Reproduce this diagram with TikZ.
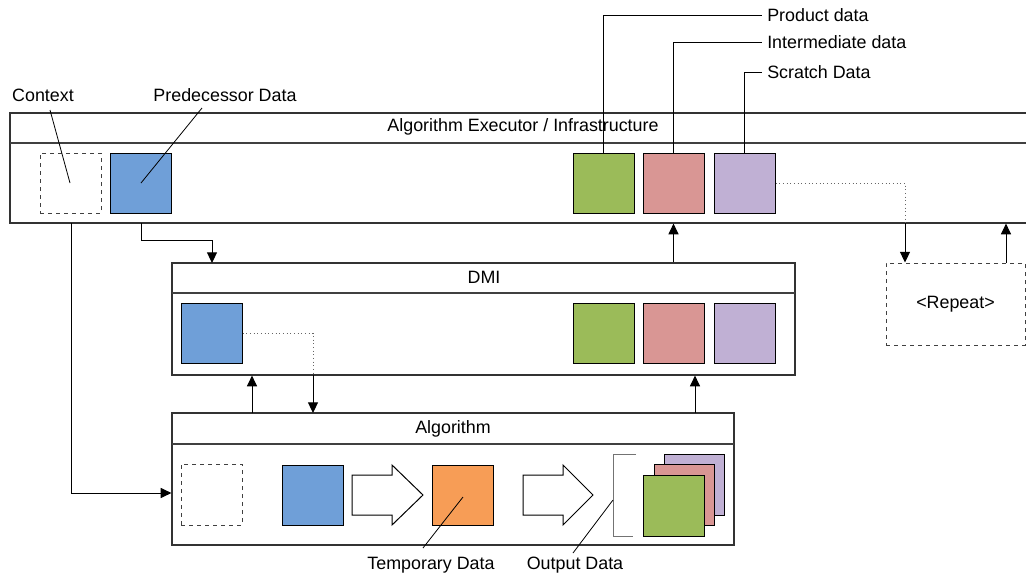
\documentclass[tikz,border=0pt]{standalone}
\usepackage{fontspec}
\setmainfont{Liberation Sans}
\usetikzlibrary{arrows.meta,fit}
\definecolor{cblue}{HTML}{6F9FD8}
\definecolor{cgreen}{HTML}{9BBB59}
\definecolor{cred}{HTML}{D99694}
\definecolor{cpurple}{HTML}{C0B0D4}
\definecolor{corange}{HTML}{F79D56}
\begin{document}
\begin{tikzpicture}[x=0.75pt,y=-0.75pt,
  frame/.style={draw=black!80, line width=0.9pt, inner sep=0pt},
  hline/.style={draw=black!75, line width=1pt},
  sq/.style={draw=black, line width=0.75pt, inner sep=0pt},
  dsq/.style={draw=black!75, dashed, line width=0.75pt, inner sep=0pt},
  lbl/.style={font=\fontsize{13.4}{15}\selectfont, inner sep=0pt},
  arr/.style={-{Triangle[length=8pt,width=7.5pt]}, line width=0.75pt},
  dotl/.style={dotted, draw=black!60, line width=0.75pt},
  lead/.style={draw=black, line width=0.6pt},
  blk/.style={draw=black, line width=0.75pt, fill=white},
  ]
\useasboundingbox (0,0) rectangle (1026,575);
\clip (0,0) rectangle (1026,575);

% ---------- Algorithm Executor ----------
\node[frame, fit={(10,113)(1040,223)}] (exec) {};
\draw[hline] (10,143) -- (1040,143);
\node[lbl] (exect) at (523,127) {Algorithm Executor / Infrastructure};
\node[dsq, fit={(40,153)(101,213)}] (ectx) {};
\node[sq, fill=cblue, fit={(110,153)(171,213)}] (eblue) {};
\node[sq, fill=cgreen, fit={(573,153)(634,213)}] (egreen) {};
\node[sq, fill=cred, fit={(643,153)(704,213)}] (ered) {};
\node[sq, fill=cpurple, fit={(714,153)(775,213)}] (epur) {};

% labels on top
\node[lbl, anchor=west] (lprod) at (767,15) {Product data};
\node[lbl, anchor=west] (linter) at (767,42) {Intermediate data};
\node[lbl, anchor=west] (lscr) at (767,72) {Scratch Data};
\node[lbl] (lctx) at (43,95) {Context};
\node[lbl] (lpred) at (225,95) {Predecessor Data};

\draw[lead] ([xshift=-4pt]lprod.west) -| (egreen.north);
\draw[lead] ([xshift=-4pt]linter.west) -| (ered.north);
\draw[lead] ([xshift=-4pt]lscr.west) -| (epur.north);
\coordinate (ctxp) at (70,183);
\coordinate (predp) at (141,183);
\draw[lead] (50,110) -- (ctxp);
\draw[lead] (202,108) -- (predp);

% ---------- Repeat ----------
\node[dsq, fit={(886,263)(1025,345)}] (rep) {};
\node[lbl] (rept) at (rep.center) {<Repeat>};

% ---------- DMI ----------
\node[frame, fit={(172,263)(795,375)}] (dmi) {};
\draw[hline] (172,293) -- (795,293);
\node[lbl] (dmit) at (484,277) {DMI};
\node[sq, fill=cblue, fit={(181,303)(242,363)}] (dblue) {};
\node[sq, fill=cgreen, fit={(573,303)(634,363)}] (dgreen) {};
\node[sq, fill=cred, fit={(643,303)(704,363)}] (dred) {};
\node[sq, fill=cpurple, fit={(714,303)(775,363)}] (dpur) {};

% ---------- Algorithm ----------
\node[frame, fit={(172,413)(734,545)}] (alg) {};
\draw[hline] (172,444) -- (734,444);
\node[lbl] (algt) at (453,429) {Algorithm};
\node[dsq, fit={(181,464)(242,525)}] (actx) {};
\node[sq, fill=cblue, fit={(282,465)(343,525)}] (ablue) {};
\node[sq, fill=corange, fit={(432,465)(493,525)}] (aorange) {};
\draw[blk] (352,475) -- (392,475) -- (392,465) -- (423,495) -- (392,525) -- (392,515) -- (352,515) -- cycle;
\draw[blk] (523,475) -- (563,475) -- (563,465) -- (593,495) -- (563,525) -- (563,515) -- (523,515) -- cycle;
\draw[draw=black!55, line width=0.75pt] (636,454) -- (613,454) -- (613,536) -- (633,536);
\node[sq, fill=cpurple, fit={(664,454)(724,515)}] (opur) {};
\node[sq, fill=cred, fit={(654,464)(714,525)}] (ored) {};
\node[sq, fill=cgreen, fit={(643,475)(704,536)}] (ogreen) {};

\node[lbl] (ltemp) at (431,565) {Temporary Data};
\node[lbl] (lout) at (575,565) {Output Data};
\draw[lead] (423,548) -- (463,497);
\draw[lead] (573,553) -- (613,500);

% ---------- connectors ----------
\coordinate (r1) at (905,223);
\coordinate (r2) at (1006,263);
\draw[dotl] (epur.east) -| (r1);
\draw[arr] (r1) -- (r1 |- rep.north);
\draw[arr] (r2) -- (r2 |- exec.south);

\coordinate (p1) at (141,223);
\coordinate (p2) at (212,263);
\draw[arr] (p1) -- (141,240) -| (p2);

\draw[arr] (dred.center |- dmi.north) -- (dred.center |- exec.south);

\coordinate (q1) at (313,375);
\draw[dotl] (dblue.east) -| (q1);
\draw[arr] (q1) -- (313,413);
\coordinate (u1) at (252,413);
\coordinate (u2) at (695,413);
\draw[arr] (u1) -- (u1 |- dmi.south);
\draw[arr] (u2) -- (u2 |- dmi.south);

\coordinate (c1) at (71,223);
\draw[arr] (c1) |- (alg.west |- 0,493);
\end{tikzpicture}
\end{document}
